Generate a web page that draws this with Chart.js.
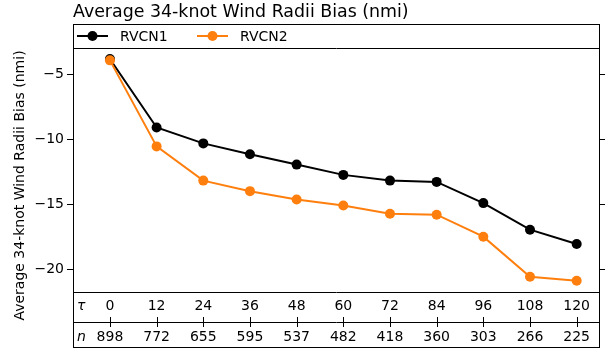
<!DOCTYPE html>
<html>
<head>
<meta charset="utf-8">
<script src="https://cdn.jsdelivr.net/npm/chart.js@4.4.0/dist/chart.umd.min.js"></script>
<style>
  html, body { margin: 0; padding: 0; background: #fff; }
  #chart { display: block; }
</style>
</head>
<body>
<canvas id="chart" width="605" height="348"></canvas>
<script>
// forecast lead times (h) and number of cases at each
const leadTimes = [0, 12, 24, 36, 48, 60, 72, 84, 96, 108, 120];
const caseCounts = [898, 772, 655, 595, 537, 482, 418, 360, 303, 266, 225];

// mean 34-kt wind radii bias (nmi)
const rvcn1 = [-3.85, -9.11, -10.33, -11.17, -11.96, -12.75, -13.19, -13.29, -14.92, -16.96, -18.06];
const rvcn2 = [-3.95, -10.56, -13.19, -14.0, -14.64, -15.1, -15.74, -15.81, -17.5, -20.58, -20.89];

const yTicks = [-5, -10, -15, -20];

const BLACK = '#000000';
const ORANGE = '#ff7f0e';
const FONT = '"DejaVu Sans", sans-serif';

// frame layout
const box = { left: 73, right: 600, top: 24, legendBottom: 48, plotBottom: 292, rowLine: 322, bottom: 347 };

function toPoints(vals) {
  return leadTimes.map((t, i) => ({ x: t, y: vals[i] }));
}

const decorations = {
  id: 'decorations',
  afterDraw(chart) {
    const ctx = chart.ctx;
    const xs = chart.scales.x;
    const ys = chart.scales.y;
    ctx.save();

    // title
    ctx.fillStyle = BLACK;
    ctx.font = '17.4px ' + FONT;
    ctx.textAlign = 'left';
    ctx.textBaseline = 'alphabetic';
    ctx.fillText('Average 34-knot Wind Radii Bias (nmi)', box.left, 16.5);

    // outer frame and row separators
    ctx.strokeStyle = BLACK;
    ctx.lineWidth = 1;
    ctx.strokeRect(box.left + 0.5, box.top + 0.5, box.right - box.left - 1, box.bottom - box.top);
    [box.legendBottom, box.plotBottom, box.rowLine].forEach(y => {
      ctx.beginPath();
      ctx.moveTo(box.left, y + 0.5);
      ctx.lineTo(box.right, y + 0.5);
      ctx.stroke();
    });

    // legend
    const legendItems = [
      { label: 'RVCN1', color: BLACK, x: 77 },
      { label: 'RVCN2', color: ORANGE, x: 197 }
    ];
    ctx.font = '14px ' + FONT;
    ctx.textBaseline = 'middle';
    legendItems.forEach(item => {
      ctx.strokeStyle = item.color;
      ctx.fillStyle = item.color;
      ctx.lineWidth = 2;
      ctx.beginPath();
      ctx.moveTo(item.x, 36);
      ctx.lineTo(item.x + 31, 36);
      ctx.stroke();
      ctx.beginPath();
      ctx.arc(item.x + 15.5, 36, 5, 0, Math.PI * 2);
      ctx.fill();
      ctx.fillStyle = BLACK;
      ctx.fillText(item.label, item.x + 43, 37);
    });

    // y ticks on both sides, labels on the left
    ctx.strokeStyle = BLACK;
    ctx.lineWidth = 1;
    ctx.fillStyle = BLACK;
    ctx.textAlign = 'right';
    yTicks.forEach(v => {
      const py = Math.round(ys.getPixelForValue(v)) + 0.5;
      ctx.beginPath();
      ctx.moveTo(box.left - 6, py);
      ctx.lineTo(box.left, py);
      ctx.moveTo(box.right, py);
      ctx.lineTo(box.right + 6, py);
      ctx.stroke();
      ctx.fillText(String(v).replace('-', '\u2212'), box.left - 9, py);
    });

    // y axis title
    ctx.save();
    ctx.translate(23.5, (box.top + box.bottom) / 2);
    ctx.rotate(-Math.PI / 2);
    ctx.textAlign = 'center';
    ctx.textBaseline = 'alphabetic';
    ctx.fillText('Average 34-knot Wind Radii Bias (nmi)', 0, 0);
    ctx.restore();

    // lead time / case count table
    ctx.textAlign = 'left';
    ctx.font = 'italic 14px ' + FONT;
    ctx.fillText('\u03c4', 77, 306);
    ctx.fillText('n', 77, 337);
    ctx.font = '14px ' + FONT;
    ctx.textAlign = 'center';
    leadTimes.forEach((t, i) => {
      const px = xs.getPixelForValue(t);
      ctx.fillText(String(t), px, 306);
      ctx.fillText(String(caseCounts[i]), px, 337);
      ctx.beginPath();
      ctx.moveTo(Math.round(px) + 0.5, box.rowLine - 5);
      ctx.lineTo(Math.round(px) + 0.5, box.rowLine + 5);
      ctx.stroke();
    });

    ctx.restore();
  }
};

new Chart(document.getElementById('chart').getContext('2d'), {
  type: 'line',
  data: {
    datasets: [
      {
        label: 'RVCN1',
        data: toPoints(rvcn1),
        borderColor: BLACK,
        backgroundColor: BLACK,
        borderWidth: 2,
        pointRadius: 5,
        pointBorderWidth: 0,
        pointBackgroundColor: BLACK,
        order: 2
      },
      {
        label: 'RVCN2',
        data: toPoints(rvcn2),
        borderColor: ORANGE,
        backgroundColor: ORANGE,
        borderWidth: 2,
        pointRadius: 5,
        pointBorderWidth: 0,
        pointBackgroundColor: ORANGE,
        order: 1
      }
    ]
  },
  options: {
    responsive: false,
    animation: false,
    layout: { padding: { left: box.left, right: 605 - box.right, top: box.legendBottom, bottom: 348 - box.plotBottom } },
    scales: {
      x: { type: 'linear', min: -9.5, max: 126, display: false },
      y: { type: 'linear', min: -21.75, max: -3.0, display: false }
    },
    plugins: {
      legend: { display: false },
      tooltip: { enabled: false }
    }
  },
  plugins: [decorations]
});
</script>
</body>
</html>
